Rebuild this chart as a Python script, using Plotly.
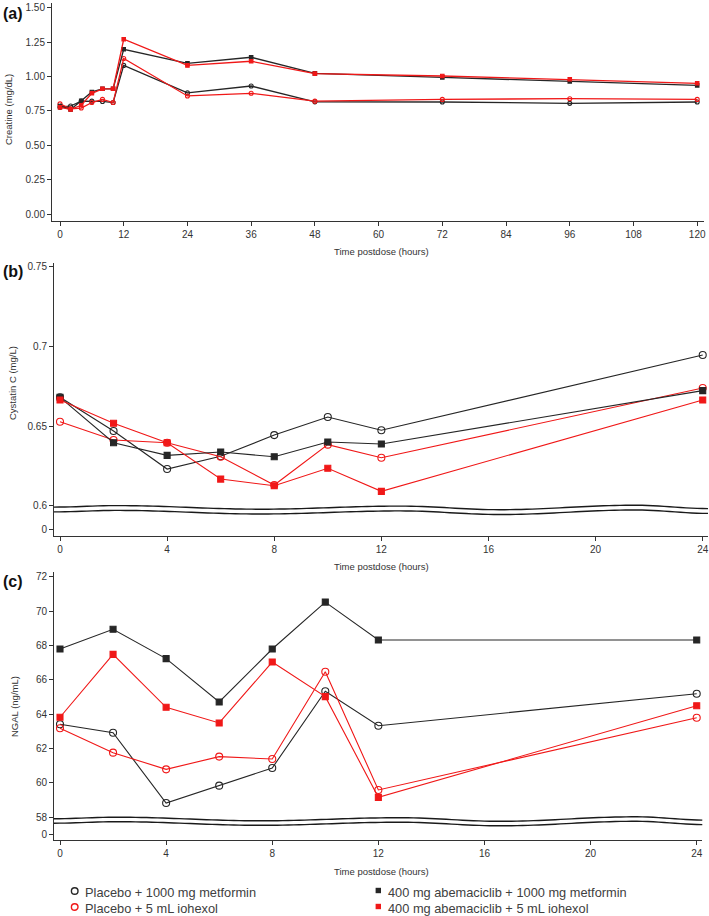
import numpy as np
import plotly.graph_objects as go

W, H = 709, 916

# ---------------- data ----------------
t_a = [0, 2, 4, 6, 8, 10, 12, 24, 36, 48, 72, 96, 120]
crea_pbo_met = [0.775, 0.785, 0.82, 0.82, 0.818, 0.81, 1.08, 0.88, 0.93, 0.815, 0.814, 0.804, 0.814]
crea_pbo_ioh = [0.80, 0.765, 0.77, 0.81, 0.833, 0.81, 1.13, 0.858, 0.877, 0.82, 0.833, 0.838, 0.833]
crea_abe_met = [0.785, 0.76, 0.823, 0.887, 0.91, 0.91, 1.197, 1.095, 1.139, 1.022, 0.993, 0.964, 0.935]
crea_abe_ioh = [0.775, 0.76, 0.79, 0.877, 0.91, 0.91, 1.27, 1.08, 1.11, 1.02, 1.003, 0.979, 0.95]

t_b = [0, 2, 4, 6, 8, 10, 12, 24]
cys_pbo_met = [0.668, 0.6469, 0.623, 0.631, 0.6443, 0.6556, 0.6473, 0.6945]
cys_pbo_ioh = [0.6527, 0.6412, 0.6395, 0.6307, 0.613, 0.6383, 0.6301, 0.6738]
cys_abe_met = [0.668, 0.6395, 0.6316, 0.6337, 0.6307, 0.640, 0.6387, 0.6722]
cys_abe_ioh = [0.6663, 0.6517, 0.6395, 0.6167, 0.6125, 0.6235, 0.609, 0.6663]

t_c = [0, 2, 4, 6, 8, 10, 12, 24]
ngal_pbo_met = [63.41, 62.92, 58.83, 59.84, 60.87, 65.33, 63.33, 65.19]
ngal_pbo_ioh = [63.18, 61.76, 60.79, 61.53, 61.39, 66.47, 59.59, 63.79]
ngal_abe_met = [67.79, 68.94, 67.23, 64.71, 67.79, 70.52, 68.31, 68.31]
ngal_abe_ioh = [63.82, 67.48, 64.40, 63.49, 67.03, 65.02, 59.16, 64.49]

series_names = ["Placebo + 1000 mg metformin", "Placebo + 5 mL iohexol",
                "400 mg abemaciclib + 1000 mg metformin", "400 mg abemaciclib + 5 mL iohexol"]

ticks_a_x = [0, 12, 24, 36, 48, 60, 72, 84, 96, 108, 120]
ticks_a_y = [0.0, 0.25, 0.5, 0.75, 1.0, 1.25, 1.5]
ticks_b_x = [0, 4, 8, 12, 16, 20, 24]
ticks_b_y = [0.6, 0.65, 0.7, 0.75]
ticks_b_y_text = ["0.6", "0.65", "0.7", "0.75"]
ticks_c_y = [58, 60, 62, 64, 66, 68, 70, 72]

# ---------------- styles ----------------
BLACK = "#262626"
RED = "#f01818"
AXC = "#333333"
TXT = "#333333"
FONT = "Liberation Sans, Arial, sans-serif"

def px(x):
    return x / W

def py(y):
    return 1 - y / H

fig = go.Figure()

def add_series(x, ys, xa, ya, small=False):
    styles = [
        (BLACK, "circle-open"),
        (RED, "circle-open"),
        (BLACK, "square"),
        (RED, "square"),
    ]
    for (col, sym), y, name in zip(styles, ys, series_names):
        if small:
            size = 4 if sym == "circle-open" else 3.5
            lw = 1.3
        else:
            size = 7 if sym == "circle-open" else 6
            lw = 1.1
        fig.add_trace(go.Scatter(
            x=x, y=y, mode="lines+markers", name=name, showlegend=False,
            xaxis=xa, yaxis=ya,
            line=dict(color=col, width=lw),
            marker=dict(symbol=sym, size=size, color=col,
                        line=dict(color=col, width=1.1)),
        ))

add_series(t_a, [crea_pbo_met, crea_pbo_ioh, crea_abe_met, crea_abe_ioh], "x", "y", small=True)
add_series(t_b, [cys_pbo_met, cys_pbo_ioh, cys_abe_met, cys_abe_ioh], "x2", "y2")
add_series(t_c, [ngal_pbo_met, ngal_pbo_ioh, ngal_abe_met, ngal_abe_ioh], "x3", "y4")

# empty traces so the lower (axis-break) subplots get created
for xa, ya in [("x2", "y3"), ("x3", "y5")]:
    fig.add_trace(go.Scatter(x=[], y=[], xaxis=xa, yaxis=ya, showlegend=False,
                             hoverinfo="skip", mode="markers"))

tickfont = dict(family=FONT, size=10, color=TXT)
axis_common = dict(showline=True, linecolor=AXC, linewidth=1, ticks="outside",
                   ticklen=4, tickwidth=1, tickcolor=AXC, showgrid=False,
                   zeroline=False, tickfont=tickfont, automargin=False)

# panel (a)
a_scale = 137.6
a_xs = 5.31
layout_axes = dict(
    xaxis=dict(domain=[px(52), px(704)], anchor="y",
               range=[-8 / a_xs, (704 - 60) / a_xs],
               tickvals=ticks_a_x, **axis_common),
    yaxis=dict(domain=[py(220.7), py(3)], anchor="x",
               range=[-(220.7 - 214) / a_scale, (214 - 3) / a_scale],
               tickvals=ticks_a_y, tickformat=".2f", **axis_common),
)

# panel (b)
b_scale = 1594.0
b_xs = 26.78
layout_axes.update(
    xaxis2=dict(domain=[px(54), px(708)], anchor="y3",
                range=[-6 / b_xs, (708 - 60) / b_xs],
                tickvals=ticks_b_x, **axis_common),
    yaxis2=dict(domain=[py(509.5), py(263)], anchor="x2",
                range=[0.6 - (509.5 - 505.7) / b_scale, 0.6 + (505.7 - 263) / b_scale],
                tickvals=ticks_b_y, ticktext=ticks_b_y_text, **axis_common),
    yaxis3=dict(domain=[py(536), py(509.5)], anchor="x2",
                range=[-(536 - 529.3), (529.3 - 509.5)],
                tickvals=[0], ticktext=["0"], **axis_common),
)

# panel (c)
c_scale = 17.19
c_xs = 26.53
layout_axes.update(
    xaxis3=dict(domain=[px(54), px(702.3)], anchor="y5",
                range=[-6 / c_xs, (702.3 - 60) / c_xs],
                tickvals=ticks_b_x, **axis_common),
    yaxis4=dict(domain=[py(821), py(572)], anchor="x3",
                range=[58 - (821 - 817.3) / c_scale, 58 + (817.3 - 572) / c_scale],
                tickvals=ticks_c_y, **axis_common),
    yaxis5=dict(domain=[py(840), py(821)], anchor="x3",
                range=[-(840 - 834.7), (834.7 - 821)],
                tickvals=[0], ticktext=["0"], **axis_common),
)

# ---------------- axis-break wavy lines (decoration) ----------------
wave_x = [54, 117, 260, 400, 500, 635, 709]
wave_dy = [-0.3, -1.8, 1.8, -1.3, 2.3, -2.2, 1.2]

def wave_path(x0, x1, base):
    xs = np.linspace(x0, x1, 120)
    out = []
    for xv in xs:
        i = np.searchsorted(wave_x, xv) - 1
        i = max(0, min(i, len(wave_x) - 2))
        t = (xv - wave_x[i]) / (wave_x[i + 1] - wave_x[i])
        t = min(max(t, 0), 1)
        w = (1 - np.cos(np.pi * t)) / 2
        out.append(wave_dy[i] * (1 - w) + wave_dy[i + 1] * w)
    pts = [f"{px(xv):.5f},{py(base + dv):.5f}" for xv, dv in zip(xs, out)]
    return "M " + " L ".join(pts)

shapes = []
for x0, x1, b1, b2 in [(54, 708, 507.4, 512.2), (54, 702.3, 819.0, 823.5)]:
    for b in (b1, b2):
        shapes.append(dict(type="path", xref="paper", yref="paper",
                           path=wave_path(x0, x1, b),
                           line=dict(color="#1a1a1a", width=1.4)))

# legend markers
leg_rows = [892, 908]
for row, col in zip(leg_rows, [BLACK, RED]):
    r = 3.3
    shapes.append(dict(type="circle", xref="paper", yref="paper",
                       x0=px(74.7 - r), x1=px(74.7 + r), y0=py(row - 1 + r), y1=py(row - 1 - r),
                       line=dict(color=col, width=1.4), fillcolor="rgba(0,0,0,0)"))
for row, col in zip(leg_rows, [BLACK, RED]):
    s = 2.7
    shapes.append(dict(type="rect", xref="paper", yref="paper",
                       x0=px(378.3 - s), x1=px(378.3 + s), y0=py(row - 1.5 + s), y1=py(row - 1.5 - s),
                       line=dict(color=col, width=0), fillcolor=col))

# ---------------- annotations ----------------
ann = []
def text(x, y, s, size=10, bold=False, angle=0, xanchor="center", color=TXT):
    ann.append(dict(xref="paper", yref="paper", x=px(x), y=py(y), text=f"<b>{s}</b>" if bold else s,
                    showarrow=False, textangle=angle, xanchor=xanchor, yanchor="middle",
                    font=dict(family=FONT, size=size, color=color)))

text(1, 13, "(a)", size=16, bold=True, xanchor="left", color="#111111")
text(1, 271, "(b)", size=16, bold=True, xanchor="left", color="#111111")
text(1, 581, "(c)", size=16, bold=True, xanchor="left", color="#111111")

text(8, 110, "Creatine (mg/dL)", size=9.5, angle=-90)
text(12, 383, "Cystatin C (mg/L)", size=9.5, angle=-90)
text(14, 707, "NGAL (ng/mL)", size=9.5, angle=-90)

text(381, 252, "Time postdose (hours)", size=9.5)
text(381, 566, "Time postdose (hours)", size=9.5)
text(381, 871, "Time postdose (hours)", size=9.5)

text(83, 892, series_names[0], size=12.8, xanchor="left", color="#404040")
text(83, 908, series_names[1], size=12.8, xanchor="left", color="#404040")
text(386, 892, series_names[2], size=12.8, xanchor="left", color="#404040")
text(386, 908, series_names[3], size=12.8, xanchor="left", color="#404040")

fig.update_layout(
    template="none",
    width=W, height=H,
    margin=dict(l=0, r=0, t=0, b=0, pad=0),
    paper_bgcolor="white", plot_bgcolor="white",
    showlegend=False,
    shapes=shapes,
    annotations=ann,
    **layout_axes,
)

fig.write_html("out.html",
               config={"displayModeBar": False},
               post_script="document.body.style.margin='0';document.body.style.overflow='hidden';")
